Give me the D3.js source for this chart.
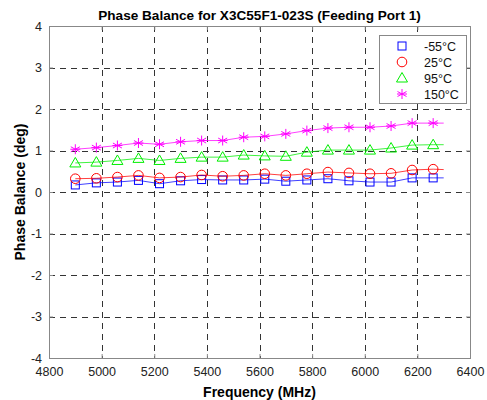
<!DOCTYPE html>
<html>
<head>
<meta charset="utf-8">
<script src="https://cdn.jsdelivr.net/npm/d3@7"></script>
<style>
  body { margin: 0; background: #fff; }
  svg text { font-family: "Liberation Sans", Arial, sans-serif; }
</style>
</head>
<body>
<div id="chart"></div>
<script>
// frequencies (MHz) of the marked points, last one is line end only
var freqs = [4900, 4980, 5060, 5140, 5220, 5300, 5380, 5460, 5540, 5620,
             5700, 5780, 5860, 5940, 6020, 6100, 6180, 6260, 6300];

var seriesNames = ["-55°C", "25°C", "95°C", "150°C"];

// phase balance (deg)
var m55 = [0.17, 0.22, 0.24, 0.28, 0.20, 0.27, 0.30, 0.29, 0.29, 0.31,
           0.26, 0.29, 0.32, 0.27, 0.24, 0.24, 0.34, 0.34, 0.34];
var p25 = [0.32, 0.33, 0.36, 0.40, 0.34, 0.36, 0.41, 0.38, 0.40, 0.44,
           0.40, 0.44, 0.48, 0.46, 0.44, 0.45, 0.53, 0.55, 0.54];
var p95 = [0.70, 0.72, 0.76, 0.81, 0.76, 0.81, 0.84, 0.84, 0.89, 0.87,
           0.86, 0.96, 1.01, 1.01, 1.01, 1.06, 1.13, 1.14, 1.14];
var p150 = [1.03, 1.07, 1.12, 1.18, 1.15, 1.21, 1.24, 1.24, 1.32, 1.34,
            1.40, 1.48, 1.54, 1.56, 1.56, 1.59, 1.66, 1.66, 1.66];

var xTicks = [4800, 5000, 5200, 5400, 5600, 5800, 6000, 6200, 6400];
var yTicks = [-4, -3, -2, -1, 0, 1, 2, 3, 4];

var colors = ["#0000ff", "#ff0000", "#00ee00", "#ff00ff"];
var shapes = ["square", "circle", "triangle", "star"];
var allSeries = [m55, p25, p95, p150];

var W = 487, H = 400;
var margin = {top: 26, right: 17, bottom: 42, left: 49};
var width = W - margin.left - margin.right,
    height = H - margin.top - margin.bottom;

var svg = d3.select("#chart").append("svg")
    .attr("width", W)
    .attr("height", H);

var g = svg.append("g")
    .attr("transform", "translate(" + margin.left + "," + margin.top + ")");

var x = d3.scaleLinear().domain([4800, 6400]).range([0, width]);
var y = d3.scaleLinear().domain([-4, 4]).range([height, 0]);

// grid
g.selectAll(".vgrid")
  .data(xTicks.slice(1, -1))
  .enter().append("line")
    .attr("x1", d => Math.round(x(d)) + 0.5).attr("x2", d => Math.round(x(d)) + 0.5)
    .attr("y1", 0).attr("y2", height)
    .attr("stroke", "#333").attr("stroke-width", 1)
    .attr("stroke-dasharray", "6,5");

g.selectAll(".hgrid")
  .data(yTicks.slice(1, -1))
  .enter().append("line")
    .attr("y1", d => Math.round(y(d)) + 0.5).attr("y2", d => Math.round(y(d)) + 0.5)
    .attr("x1", 0).attr("x2", width)
    .attr("stroke", "#333").attr("stroke-width", 1)
    .attr("stroke-dasharray", "6,5");

// axes
var fmt = d => String(d);
var xAxis = d3.axisBottom(x).tickValues(xTicks).tickSize(-4).tickPadding(9).tickFormat(fmt);
var yAxis = d3.axisLeft(y).tickValues(yTicks).tickSize(-4).tickPadding(7).tickFormat(fmt);

var gx = g.append("g").attr("transform", "translate(0," + height + ")").call(xAxis);
var gy = g.append("g").call(yAxis);
g.append("g").call(d3.axisTop(x).tickValues(xTicks).tickSize(-4).tickFormat(""));
g.append("g").attr("transform", "translate(" + width + ",0)")
  .call(d3.axisRight(y).tickValues(yTicks).tickSize(-4).tickFormat(""));

g.selectAll(".domain").remove();
g.selectAll(".tick line").attr("stroke", "#888");
[gx, gy].forEach(function(a) {
  a.selectAll("text").attr("fill", "#222").style("font-size", "12.5px");
});

g.append("rect")
  .attr("x", 0.5).attr("y", 0.5)
  .attr("width", width).attr("height", height)
  .attr("fill", "none").attr("stroke", "#888");

// lines + markers
var line = d3.line().x((d, i) => x(freqs[i])).y(d => y(d));

function drawMarker(sel, shape, color) {
  if (shape === "square") {
    sel.append("rect").attr("x", -4).attr("y", -4).attr("width", 8).attr("height", 8)
      .attr("fill", "none").attr("stroke", color);
  } else if (shape === "circle") {
    sel.append("circle").attr("r", 4.8).attr("fill", "none").attr("stroke", color);
  } else if (shape === "triangle") {
    sel.append("path").attr("d", "M0,-5.5L5.5,4L-5.5,4Z").attr("fill", "none").attr("stroke", color);
  } else {
    sel.append("path")
      .attr("d", "M0,-5V5M-4.5,-2.5L4.5,2.5M-4.5,2.5L4.5,-2.5M-5,0H5")
      .attr("fill", "none").attr("stroke", color);
  }
}

allSeries.forEach(function(vals, k) {
  g.append("path")
    .datum(vals)
    .attr("d", line)
    .attr("fill", "none")
    .attr("stroke", colors[k])
    .attr("stroke-opacity", 0.75)
    .attr("stroke-width", 1);

  // markers on every point except the line end
  g.selectAll(".mk" + k)
    .data(vals.slice(0, -1))
    .enter().append("g")
      .attr("transform", (d, i) => "translate(" + x(freqs[i]) + "," + y(d) + ")")
      .each(function() { drawMarker(d3.select(this), shapes[k], colors[k]); });
});

// legend
var lg = g.append("g").attr("transform", "translate(" + (x(6400) - 91) + ",9)");
lg.append("rect")
  .attr("x", 0.5).attr("y", 0.5).attr("width", 87).attr("height", 68)
  .attr("fill", "#fff").attr("stroke", "#888");
seriesNames.forEach(function(name, k) {
  var row = lg.append("g").attr("transform", "translate(0," + (11 + k * 16) + ")");
  var m = row.append("g").attr("transform", "translate(23,0)");
  drawMarker(m, shapes[k], colors[k]);
  row.append("text").attr("x", 45).attr("y", 4.5)
    .style("font-size", "12.5px").attr("fill", "#111").text(name);
});

// titles
svg.append("text")
  .attr("x", margin.left + width / 2).attr("y", 20)
  .attr("text-anchor", "middle")
  .style("font-size", "13.6px").style("font-weight", "bold")
  .text("Phase Balance for X3C55F1-023S (Feeding Port 1)");

svg.append("text")
  .attr("x", margin.left + width / 2).attr("y", 397)
  .attr("text-anchor", "middle")
  .style("font-size", "14px").style("font-weight", "bold")
  .text("Frequency (MHz)");

svg.append("text")
  .attr("transform", "translate(25," + (margin.top + height / 2) + ") rotate(-90)")
  .attr("text-anchor", "middle")
  .style("font-size", "14px").style("font-weight", "bold")
  .text("Phase Balance (deg)");
</script>
</body>
</html>
